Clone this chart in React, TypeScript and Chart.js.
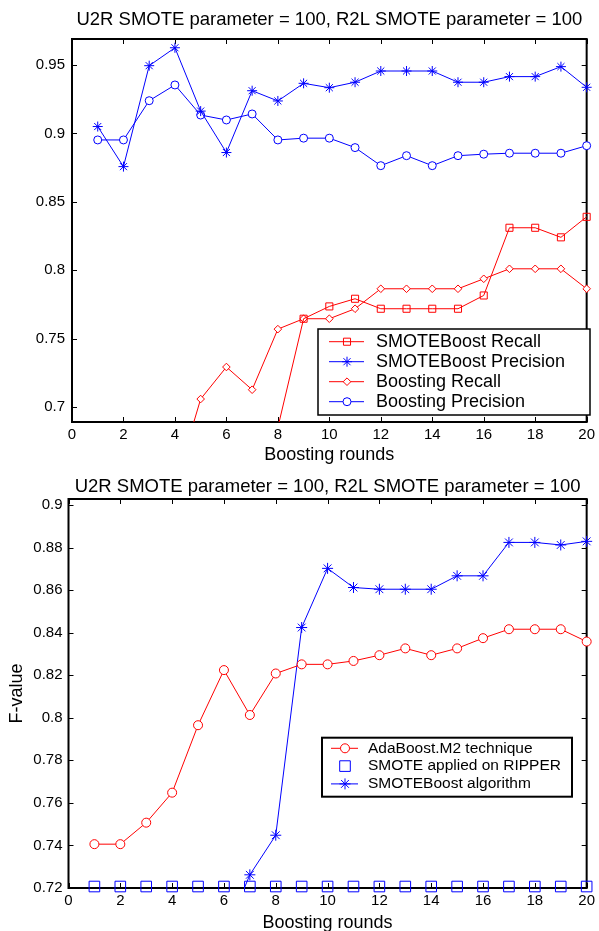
import React, { useEffect, useRef } from "react";
import { Chart, registerables } from "chart.js";
import { drawPoint } from "chart.js/helpers";

Chart.register(...registerables);

// ---------- data ----------
const rounds = [1, 2, 3, 4, 5, 6, 7, 8, 9, 10, 11, 12, 13, 14, 15, 16, 17, 18, 19, 20];
const xTicks = [0, 2, 4, 6, 8, 10, 12, 14, 16, 18, 20];
const yTicksTop = [0.7, 0.75, 0.8, 0.85, 0.9, 0.95];
const yTicksBottom = [0.72, 0.74, 0.76, 0.78, 0.8, 0.82, 0.84, 0.86, 0.88, 0.9];

const titleText = "U2R SMOTE parameter = 100, R2L SMOTE parameter = 100";
const xTitle = "Boosting rounds";
const yTitleBottom = "F-value";

// top chart
const smoteBoostRecall = [0.55, 0.58, 0.6, 0.62, 0.63, 0.65, 0.66, 0.685, 0.7645, 0.7735, 0.7791, 0.7718, 0.7718, 0.7718, 0.7718, 0.7815, 0.831, 0.831, 0.824, 0.839];
const smoteBoostPrecision = [0.905, 0.8757, 0.9495, 0.9626, 0.9163, 0.886, 0.9312, 0.9237, 0.9366, 0.9334, 0.9374, 0.9456, 0.9456, 0.9456, 0.9374, 0.9374, 0.9415, 0.9415, 0.9488, 0.9337];
const boostingRecall = [0.6, 0.61, 0.63, 0.6425, 0.7058, 0.7292, 0.7126, 0.7569, 0.7645, 0.7645, 0.7718, 0.7864, 0.7864, 0.7864, 0.7864, 0.7937, 0.801, 0.801, 0.801, 0.7864];
const boostingPrecision = [0.8952, 0.8952, 0.9239, 0.9354, 0.9134, 0.9098, 0.9142, 0.8952, 0.8965, 0.8965, 0.8896, 0.8764, 0.8837, 0.8764, 0.8837, 0.8848, 0.8855, 0.8855, 0.8855, 0.891];

// bottom chart
const adaBoostM2 = [0.7406, 0.7406, 0.7507, 0.7648, 0.7965, 0.8224, 0.8013, 0.8208, 0.8251, 0.8251, 0.8267, 0.8294, 0.8326, 0.8294, 0.8326, 0.8374, 0.8416, 0.8416, 0.8416, 0.8358];
const smoteRipper = [0.7207, 0.7207, 0.7207, 0.7207, 0.7207, 0.7207, 0.7207, 0.7207, 0.7207, 0.7207, 0.7207, 0.7207, 0.7207, 0.7207, 0.7207, 0.7207, 0.7207, 0.7207, 0.7207, 0.7207];
const smoteBoostAlgorithm = [0.66, 0.67, 0.675, 0.68, 0.69, 0.697, 0.7262, 0.7448, 0.8424, 0.8702, 0.8612, 0.8604, 0.8604, 0.8604, 0.8667, 0.8667, 0.8824, 0.8824, 0.8812, 0.8829];

// ---------- helpers ----------
const FONT = "'Liberation Sans', Arial, Helvetica, sans-serif";
const RED = "#ff0000";
const BLUE = "#0000ff";

const pts = (vals: number[]) => rounds.map((r, i) => ({ x: r, y: vals[i] }));

const matlabFrame = {
  id: "matlabFrame",
  beforeDatasetsDraw(chart: any) {
    const { ctx, chartArea: a, scales } = chart;
    const tl = 5;
    ctx.save();
    ctx.strokeStyle = "#000";
    ctx.lineWidth = 1;
    ctx.beginPath();
    scales.x.ticks.forEach((t: any) => {
      const px = Math.round(scales.x.getPixelForValue(t.value)) + 0.5;
      ctx.moveTo(px, a.bottom);
      ctx.lineTo(px, a.bottom - tl);
      ctx.moveTo(px, a.top);
      ctx.lineTo(px, a.top + tl);
    });
    scales.y.ticks.forEach((t: any) => {
      const py = Math.round(scales.y.getPixelForValue(t.value)) + 0.5;
      ctx.moveTo(a.left, py);
      ctx.lineTo(a.left + tl, py);
      ctx.moveTo(a.right, py);
      ctx.lineTo(a.right - tl, py);
    });
    ctx.stroke();
    ctx.lineWidth = 2;
    ctx.strokeRect(a.left, a.top, a.right - a.left, a.bottom - a.top);
    ctx.restore();
  },
};

const boxLegend = {
  id: "boxLegend",
  afterDatasetsDraw(chart: any, _args: any, o: any) {
    if (!o || !o.show) return;
    const { ctx } = chart;
    ctx.save();
    ctx.fillStyle = "#fff";
    ctx.fillRect(o.left, o.top, o.width, o.height);
    ctx.strokeStyle = "#000";
    ctx.lineWidth = o.borderWidth;
    ctx.strokeRect(o.left, o.top, o.width, o.height);
    chart.data.datasets.forEach((ds: any, i: number) => {
      const y = o.firstRow + i * o.rowGap;
      if (ds.showLine !== false) {
        ctx.strokeStyle = ds.borderColor;
        ctx.lineWidth = 1;
        ctx.beginPath();
        ctx.moveTo(o.lineStart, y);
        ctx.lineTo(o.lineEnd, y);
        ctx.stroke();
      }
      ctx.strokeStyle = ds.pointBorderColor;
      ctx.fillStyle = ds.pointBackgroundColor;
      ctx.lineWidth = 1;
      drawPoint(ctx, { pointStyle: ds.pointStyle, radius: ds.pointRadius, rotation: 0, borderWidth: 1 } as any, o.markerX, y);
      ctx.fillStyle = "#000";
      ctx.font = `${o.fontSize}px ${FONT}`;
      ctx.textBaseline = "middle";
      ctx.textAlign = "left";
      ctx.fillText(ds.label, o.textX, y);
    });
    ctx.restore();
  },
};

function series(label: string, vals: number[], color: string, style: string, radius: number, fill: string, showLine = true, clip: any = { left: false, top: false, right: false, bottom: 0 }) {
  return {
    label,
    data: pts(vals),
    borderColor: color,
    backgroundColor: color,
    borderWidth: 1,
    pointStyle: style,
    pointRadius: radius,
    pointHoverRadius: radius,
    pointBorderColor: color,
    pointBackgroundColor: fill,
    pointBorderWidth: 1,
    showLine,
    tension: 0,
    clip,
  };
}

function makeOptions(cfg: any) {
  return {
    responsive: false,
    animation: false as const,
    events: [],
    layout: { padding: { left: 0, right: cfg.padRight, top: 0, bottom: 0 } },
    plugins: {
      legend: { display: false },
      tooltip: { enabled: false },
      title: {
        display: true,
        text: titleText,
        fullSize: false,
        color: "#000",
        font: { family: FONT, size: 18.5, weight: "normal" },
        padding: cfg.titlePad,
      },
      boxLegend: cfg.legend,
    },
    scales: {
      x: {
        type: "linear",
        min: 0,
        max: 20,
        grid: { display: false, drawTicks: false },
        border: { display: false },
        afterBuildTicks: (s: any) => {
          s.ticks = xTicks.map((v) => ({ value: v }));
        },
        afterFit: (s: any) => {
          s.height = cfg.xHeight;
        },
        ticks: {
          color: "#000",
          font: { family: FONT, size: 15 },
          padding: 4,
          maxRotation: 0,
          autoSkip: false,
          callback: (v: any) => String(v),
        },
        title: {
          display: true,
          text: xTitle,
          color: "#000",
          font: { family: FONT, size: 18, lineHeight: cfg.xTitleLH },
          padding: { top: 0, bottom: cfg.xTitlePadBottom },
        },
      },
      y: {
        type: "linear",
        min: cfg.yMin,
        max: cfg.yMax,
        grid: { display: false, drawTicks: false },
        border: { display: false },
        afterBuildTicks: (s: any) => {
          s.ticks = cfg.yTicks.map((v: number) => ({ value: v }));
        },
        afterFit: (s: any) => {
          s.width = cfg.yWidth;
        },
        ticks: {
          color: "#000",
          font: { family: FONT, size: 15 },
          padding: cfg.yPad,
          autoSkip: false,
          callback: (v: any) => String(Number(Number(v).toFixed(2))),
        },
        title: cfg.yTitle
          ? {
              display: true,
              text: cfg.yTitle,
              color: "#000",
              font: { family: FONT, size: 18 },
              padding: { top: 6, bottom: 0 },
            }
          : { display: false },
      },
    },
  };
}

function useChart(ref: React.RefObject<HTMLCanvasElement | null>, build: () => any) {
  useEffect(() => {
    if (!ref.current) return;
    const chart = new Chart(ref.current, build());
    return () => chart.destroy();
  }, []);
}

export default function App() {
  const topRef = useRef<HTMLCanvasElement>(null);
  const botRef = useRef<HTMLCanvasElement>(null);

  useChart(topRef, () => ({
    type: "line",
    data: {
      datasets: [
        series("SMOTEBoost Recall", smoteBoostRecall, RED, "rect", 5, "rgba(0,0,0,0)"),
        series("SMOTEBoost Precision", smoteBoostPrecision, BLUE, "star", 5, BLUE),
        series("Boosting Recall", boostingRecall, RED, "rectRot", 3.8, "#fff"),
        series("Boosting Precision", boostingPrecision, BLUE, "circle", 4, "#fff"),
      ],
    },
    options: makeOptions({
      padRight: 8,
      titlePad: { top: 8.9, bottom: 7.9 },
      xHeight: 48,
      xTitleLH: 1.2,
      xTitlePadBottom: 4.2,
      yMin: 0.689,
      yMax: 0.969,
      yTicks: yTicksTop,
      yWidth: 72,
      yPad: 7,
      yTitle: null,
      legend: {
        show: true,
        left: 318,
        top: 329,
        width: 272,
        height: 86,
        borderWidth: 1.5,
        firstRow: 341.7,
        rowGap: 20,
        lineStart: 329,
        lineEnd: 364,
        markerX: 347,
        textX: 376,
        fontSize: 18,
      },
    }),
    plugins: [matlabFrame, boxLegend],
  }));

  useChart(botRef, () => ({
    type: "line",
    data: {
      datasets: [
        series("AdaBoost.M2 technique", adaBoostM2, RED, "circle", 4.5, "#fff"),
        series("SMOTE applied on RIPPER", smoteRipper, BLUE, "rect", 7.5, "rgba(0,0,0,0)", false, false),
        series("SMOTEBoost algorithm", smoteBoostAlgorithm, BLUE, "star", 5.5, BLUE),
      ],
    },
    options: makeOptions({
      padRight: 11.5,
      titlePad: { top: 5.6, bottom: 1.2 },
      xHeight: 43,
      xTitleLH: 0.9,
      xTitlePadBottom: 0,
      yMin: 0.72,
      yMax: 0.9028,
      yTicks: yTicksBottom,
      yWidth: 68.5,
      yPad: 6,
      yTitle: yTitleBottom,
      legend: {
        show: true,
        left: 322,
        top: 267.7,
        width: 250,
        height: 59,
        borderWidth: 2,
        firstRow: 278.3,
        rowGap: 17.8,
        lineStart: 331,
        lineEnd: 358,
        markerX: 345,
        textX: 368,
        fontSize: 15.5,
      },
    }),
    plugins: [matlabFrame, boxLegend],
  }));

  return (
    <div style={{ position: "fixed", left: 0, top: 0, width: 599, height: 931, background: "#fff", overflow: "hidden" }}>
      <canvas ref={topRef} width={599} height={470} style={{ position: "absolute", left: 0, top: 0, width: 599, height: 470 }} />
      <canvas ref={botRef} width={599} height={461} style={{ position: "absolute", left: 0, top: 470, width: 599, height: 461 }} />
    </div>
  );
}
